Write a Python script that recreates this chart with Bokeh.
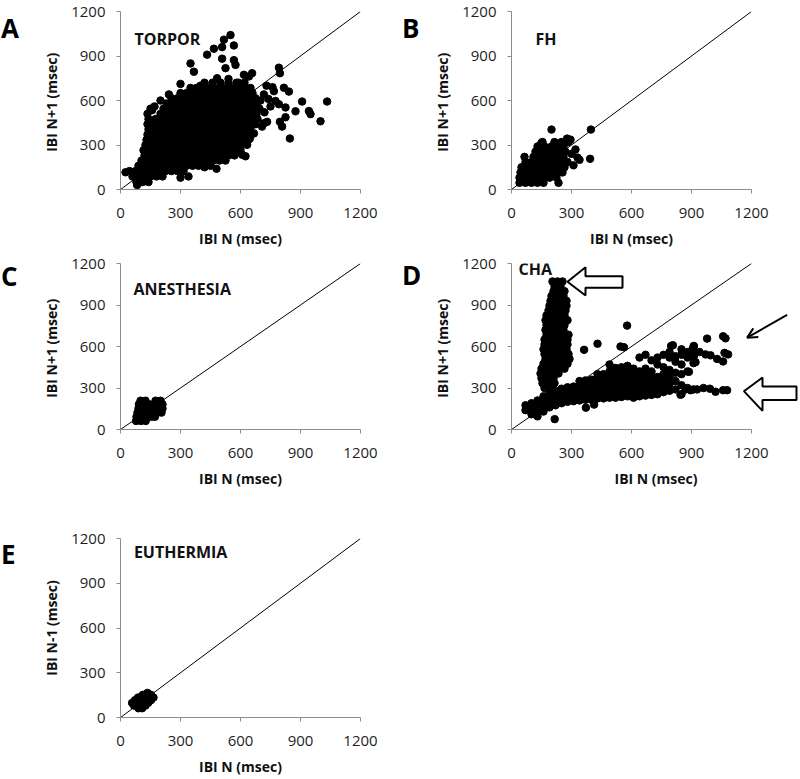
from bokeh.plotting import figure
from bokeh.models import Range1d, FixedTicker, Label, Arrow, OpenHead
from bokeh.layouts import column, row
from bokeh.embed import file_html
from bokeh.resources import INLINE

FONT = "Open Sans"
TICKS = [0, 300, 600, 900, 1200]
diag_x = [0, 1200]
diag_y = [0, 1200]

# ---------------- data ----------------
# TORPOR: dense rows (y, [x...]) + scattered points
torpor_rows = [
    (50, [80, 110, 140]),
    (88, [60, 90, 120, 150, 180, 210]),
    (124, [75, 105, 135, 165, 195, 225, 255, 285, 315]),
    (160, [90, 120, 150, 180, 210, 240, 270, 300, 330, 360, 390, 420, 450]),
    (195, [105, 135, 165, 195, 225, 255, 285, 315, 345, 375, 405, 435, 465, 495, 525]),
    (230, [120, 150, 180, 210, 240, 270, 300, 330, 360, 390, 420, 450, 480, 510, 540, 570]),
    (265, [115, 145, 175, 205, 235, 265, 295, 325, 355, 385, 415, 445, 475, 505, 535, 565, 595]),
    (300, [125, 155, 185, 215, 245, 275, 305, 335, 365, 395, 425, 455, 485, 515, 545, 575, 605]),
    (335, [130, 160, 190, 220, 250, 280, 310, 340, 370, 400, 430, 460, 490, 520, 550, 580, 610, 640]),
    (370, [135, 165, 195, 225, 255, 285, 315, 345, 375, 405, 435, 465, 495, 525, 555, 585, 615, 645]),
    (405, [140, 170, 200, 230, 260, 290, 320, 350, 380, 410, 440, 470, 500, 530, 560, 590, 620, 650]),
    (440, [135, 165, 195, 225, 255, 285, 315, 345, 375, 405, 435, 465, 495, 525, 555, 585, 615, 645, 675]),
    (475, [140, 175, 205, 235, 265, 295, 325, 355, 385, 415, 445, 475, 505, 535, 565, 595, 625, 655, 685]),
    (510, [135, 200, 230, 260, 290, 320, 350, 380, 410, 440, 470, 500, 530, 560, 590, 620, 650, 680]),
    (545, [150, 215, 245, 275, 305, 335, 365, 395, 425, 455, 485, 515, 545, 575, 605, 635, 665, 695]),
    (580, [230, 260, 290, 320, 350, 380, 410, 440, 470, 500, 530, 560, 590, 620, 650, 680]),
    (615, [255, 285, 315, 345, 375, 405, 435, 465, 495, 525, 555, 585, 615, 645, 675]),
    (650, [300, 330, 360, 390, 420, 450, 480, 510, 540, 570, 600, 630, 660]),
    (685, [350, 380, 410, 440, 470, 500, 530, 560, 590, 620, 650]),
    (720, [420, 460, 500, 540, 580, 620]),
]
torpor_scatter = [
    (25, 116), (45, 124), (83, 30), (300, 80), (340, 88), (480, 140), (420, 150),
    (608, 235), (625, 224), (600, 268), (633, 301), (647, 344), (667, 378), (708, 424),
    (717, 446), (733, 456), (797, 456), (808, 424), (847, 344), (825, 487), (1000, 460),
    (950, 508), (942, 529), (875, 527), (825, 553), (792, 575), (775, 597), (908, 593),
    (1033, 593), (717, 641), (767, 663), (842, 660), (817, 686), (617, 773), (642, 762),
    (658, 784), (797, 784), (792, 821), (525, 818), (575, 840), (567, 872), (508, 960),
    (517, 1010), (567, 971), (550, 1041), (508, 882), (467, 949), (433, 909), (350, 850),
    (367, 794), (300, 712), (242, 641), (158, 535), (483, 750), (400, 700), (730, 700),
    (750, 560), (720, 520), (700, 600), (740, 610), (760, 690), (590, 720), (540, 745),
    (170, 560), (200, 600),
]

# FH
fh_rows = [
    (45, [40, 70, 100, 130, 160, 235]),
    (80, [40, 70, 100, 130, 160, 190, 225]),
    (115, [45, 75, 105, 135, 165, 195, 225, 255]),
    (150, [50, 80, 110, 140, 170, 200, 230, 265]),
    (185, [70, 100, 130, 160, 190, 220, 250, 280]),
    (220, [65, 110, 140, 170, 200, 230, 260]),
    (255, [120, 150, 180, 210, 240, 270]),
    (290, [130, 165, 200, 230, 260]),
    (320, [155, 215, 250, 285]),
]
fh_scatter = [(200, 404), (397, 404), (393, 207), (310, 163), (340, 200), (320, 270),
              (278, 343), (295, 336), (150, 315), (300, 240), (330, 215)]

# ANESTHESIA
anes_rows = [
    (62, [78, 102, 126]),
    (92, [80, 105, 130, 155, 172]),
    (122, [85, 110, 135, 160, 185, 205]),
    (152, [90, 115, 140, 165, 190, 210]),
    (182, [92, 118, 143, 168, 193, 210]),
    (208, [100, 125, 175, 200]),
]

# CHA: lower band (x, [y...]), vertical arm (y, [x...]), scattered points
cha_band_cols = [
    (70, [140, 175]), (100, [110, 150, 190]), (130, [95, 135, 175, 210]),
    (160, [130, 170, 205, 240]), (190, [160, 195, 230, 265]), (220, [175, 210, 245, 280]),
    (250, [190, 225, 260, 295]), (280, [200, 235, 270, 305]), (310, [205, 240, 275, 310]),
    (340, [210, 245, 280, 315, 350]), (370, [215, 250, 285, 320, 355]),
    (400, [215, 250, 285, 320, 360]), (430, [225, 260, 295, 330, 370, 400]),
    (460, [225, 260, 295, 330, 365, 400]), (490, [230, 265, 300, 335, 370, 420, 470]),
    (520, [230, 265, 300, 335, 370, 405, 445]), (550, [235, 270, 305, 340, 375, 410, 450]),
    (580, [240, 275, 310, 345, 380, 420, 460]), (610, [230, 265, 300, 335, 370, 405, 440]),
    (640, [240, 275, 310, 345, 380, 420, 520]), (670, [245, 280, 315, 350, 390, 440, 540]),
    (700, [250, 290, 330, 370, 420, 500]), (730, [255, 300, 340, 380, 470, 520]),
    (760, [270, 315, 360, 400, 450, 540]), (790, [280, 330, 380, 430, 520, 560]),
    (820, [290, 350, 410, 490, 530]), (850, [255, 320, 400, 470, 540, 580]),
    (880, [300, 420, 520, 560]), (910, [290, 480, 530, 600]),
]
cha_arm_rows = [
    (1070, [205, 230, 255]), (1035, [215, 245]), (1000, [210, 240, 265]),
    (965, [200, 230, 260]), (930, [195, 225, 255, 275]), (895, [190, 220, 250, 275]),
    (860, [185, 215, 245, 270]), (825, [175, 205, 235, 265]), (790, [170, 200, 230, 260, 280]),
    (755, [175, 205, 235, 265]), (720, [170, 200, 230, 260]), (685, [175, 205, 235, 265, 285]),
    (650, [165, 195, 225, 255, 280]), (615, [165, 195, 225, 255, 280]),
    (580, [160, 190, 220, 250, 275]), (545, [165, 195, 225, 255, 285]),
    (510, [170, 200, 230, 260, 290]), (475, [160, 190, 220, 250, 280]),
    (440, [150, 180, 210, 240, 265]), (405, [145, 175, 205, 235]),
    (370, [150, 180, 210]), (335, [155, 185, 215]), (300, [165, 195]),
]
cha_scatter = [
    (216, 75), (372, 158), (413, 180), (363, 576), (430, 620), (578, 751), (545, 600),
    (562, 595), (798, 604), (807, 609), (912, 604), (903, 575), (912, 531), (920, 487),
    (887, 417), (978, 657), (1058, 674), (1070, 659), (970, 543), (995, 536), (1028, 510),
    (1065, 554), (1083, 543), (1058, 492), (928, 290), (895, 284), (870, 290), (845, 251),
    (992, 295), (1020, 273), (1058, 284), (1078, 284), (940, 560), (960, 300),
]

# EUTHERMIA
euth_rows = [
    (62, [90, 108]),
    (80, [68, 88, 108, 125]),
    (98, [58, 78, 98, 118, 138]),
    (116, [72, 92, 112, 132, 152]),
    (134, [88, 108, 128, 148, 165]),
    (152, [112, 132, 152]),
    (165, [135]),
]

# annotation shapes in panel D (data units)
arrow_top_x = [280, 370, 370, 555, 555, 370, 370]
arrow_top_y = [1068, 1173, 1107, 1107, 1025, 1025, 969]
arrow_low_x = [1162, 1255, 1255, 1425, 1425, 1255, 1255]
arrow_low_y = [277, 376, 310, 310, 214, 214, 135]
thin_arrow = (1378, 828, 1178, 664)


def rows_to_xy(rows):
    xs, ys = [], []
    for yv, xl in rows:
        for xv in xl:
            xs.append(xv)
            ys.append(yv)
    return xs, ys


def cols_to_xy(cols):
    xs, ys = [], []
    for xv, yl in cols:
        for yv in yl:
            xs.append(xv)
            ys.append(yv)
    return xs, ys


def pts_to_xy(pts):
    return [p[0] for p in pts], [p[1] for p in pts]


def letter_fig(w, h, letter, lx, ly):
    f = figure(width=w, height=h, x_range=Range1d(0, w), y_range=Range1d(0, h),
               output_backend="svg", toolbar_location=None,
               x_axis_location=None, y_axis_location=None, min_border=0)
    f.grid.visible = False
    f.outline_line_color = None
    f.add_layout(Label(x=lx, y=ly, text=letter, text_font=FONT, text_font_size="26px",
                       text_font_style="bold", text_color="black", text_baseline="alphabetic"))
    return f


def make_panel(xs, ys, width, height, bl, br, bt, bb, xend, ylabel, title, tx, ty):
    p = figure(width=width, height=height, x_range=Range1d(0, xend), y_range=Range1d(0, 1200),
               output_backend="svg", toolbar_location=None,
               min_border_left=bl, min_border_right=br, min_border_top=bt, min_border_bottom=bb)
    p.outline_line_color = None
    p.xgrid.visible = False
    p.ygrid.visible = False
    for ax in (p.xaxis[0], p.yaxis[0]):
        ax.ticker = FixedTicker(ticks=TICKS)
        ax.axis_line_color = "#8c8c8c"
        ax.major_tick_line_color = "#8c8c8c"
        ax.major_tick_out = 4
        ax.major_tick_in = 0
        ax.minor_tick_line_color = None
        ax.major_label_text_font = FONT
        ax.major_label_text_font_size = "15px"
        ax.major_label_text_color = "#1e1e1e"
        ax.axis_label_text_font = FONT
        ax.axis_label_text_font_size = "14px"
        ax.axis_label_text_font_style = "bold"
        ax.axis_label_text_color = "#111111"
    p.xaxis[0].bounds = (0, 1200)
    p.xaxis[0].axis_label = "IBI N (msec)"
    p.yaxis[0].axis_label = ylabel
    p.xaxis[0].major_label_standoff = 14
    p.yaxis[0].major_label_standoff = 11
    p.xaxis[0].axis_label_standoff = 8
    p.yaxis[0].axis_label_standoff = 7

    p.line(diag_x, diag_y, line_color="black", line_width=1)
    p.scatter(xs, ys, marker="circle", size=7.5, fill_color="black", line_color="black")
    p.add_layout(Label(x=tx, y=ty, text=title, text_font=FONT, text_font_size="16px",
                       text_font_style="bold", text_color="#111111", text_baseline="alphabetic"))
    return p


H1, H2, H3 = 250, 240, 288

ax_, ay_ = rows_to_xy(torpor_rows)
sx, sy = pts_to_xy(torpor_scatter)
pA = make_panel(ax_ + sx, ay_ + sy, 378, H1, 98, 40, 11, H1 - 11 - 178, 1200, "IBI  N+1 (msec)",
                "TORPOR", 70, 1013)

bx, by = rows_to_xy(fh_rows)
sx, sy = pts_to_xy(fh_scatter)
pB = make_panel(bx + sx, by + sy, 378, H1, 89, 49, 11, H1 - 11 - 178, 1200, "IBI  N+1 (msec)",
                "FH", 120, 1013)

cx, cy = rows_to_xy(anes_rows)
pC = make_panel(cx, cy, 378, H2, 98, 40, 13, H2 - 13 - 181, 1200, "IBI  N+1 (msec)",
                "ANESTHESIA", 65, 1015)

d1x, d1y = cols_to_xy(cha_band_cols)
d2x, d2y = rows_to_xy(cha_arm_rows)
sx, sy = pts_to_xy(cha_scatter)
pD = make_panel(d1x + d2x + sx, d1y + d2y + sy, 378, H2, 89, 0, 13, H2 - 13 - 181, 1445,
                "IBI  N+1 (msec)", "CHA", 35, 1157)
pD.patch(arrow_top_x, arrow_top_y, fill_color="white", line_color="black", line_width=2)
pD.patch(arrow_low_x, arrow_low_y, fill_color="white", line_color="black", line_width=2)
pD.add_layout(Arrow(end=OpenHead(size=10, line_width=2, line_color="black"),
                    x_start=thin_arrow[0], y_start=thin_arrow[1],
                    x_end=thin_arrow[2], y_end=thin_arrow[3],
                    line_width=2, line_color="black"))

ex, ey = rows_to_xy(euth_rows)
pE = make_panel(ex, ey, 378, H3, 98, 40, 48, H3 - 48 - 181, 1200, "IBI N-1 (msec)",
                "EUTHERMIA", 67, 1112)

lA = letter_fig(22, H1, "A", 0.5, H1 - 23)
lB = letter_fig(22, H1, "B", 1.5, H1 - 23)
lC = letter_fig(22, H2, "C", 0.5, H2 - 18)
lD = letter_fig(22, H2, "D", 1.5, H2 - 17)
lE = letter_fig(22, H3, "E", 0.5, H3 - 25)

layout = column(row(lA, pA, lB, pB), row(lC, pC, lD, pD), row(lE, pE))
open("out.html", "w").write(file_html(layout, INLINE))
